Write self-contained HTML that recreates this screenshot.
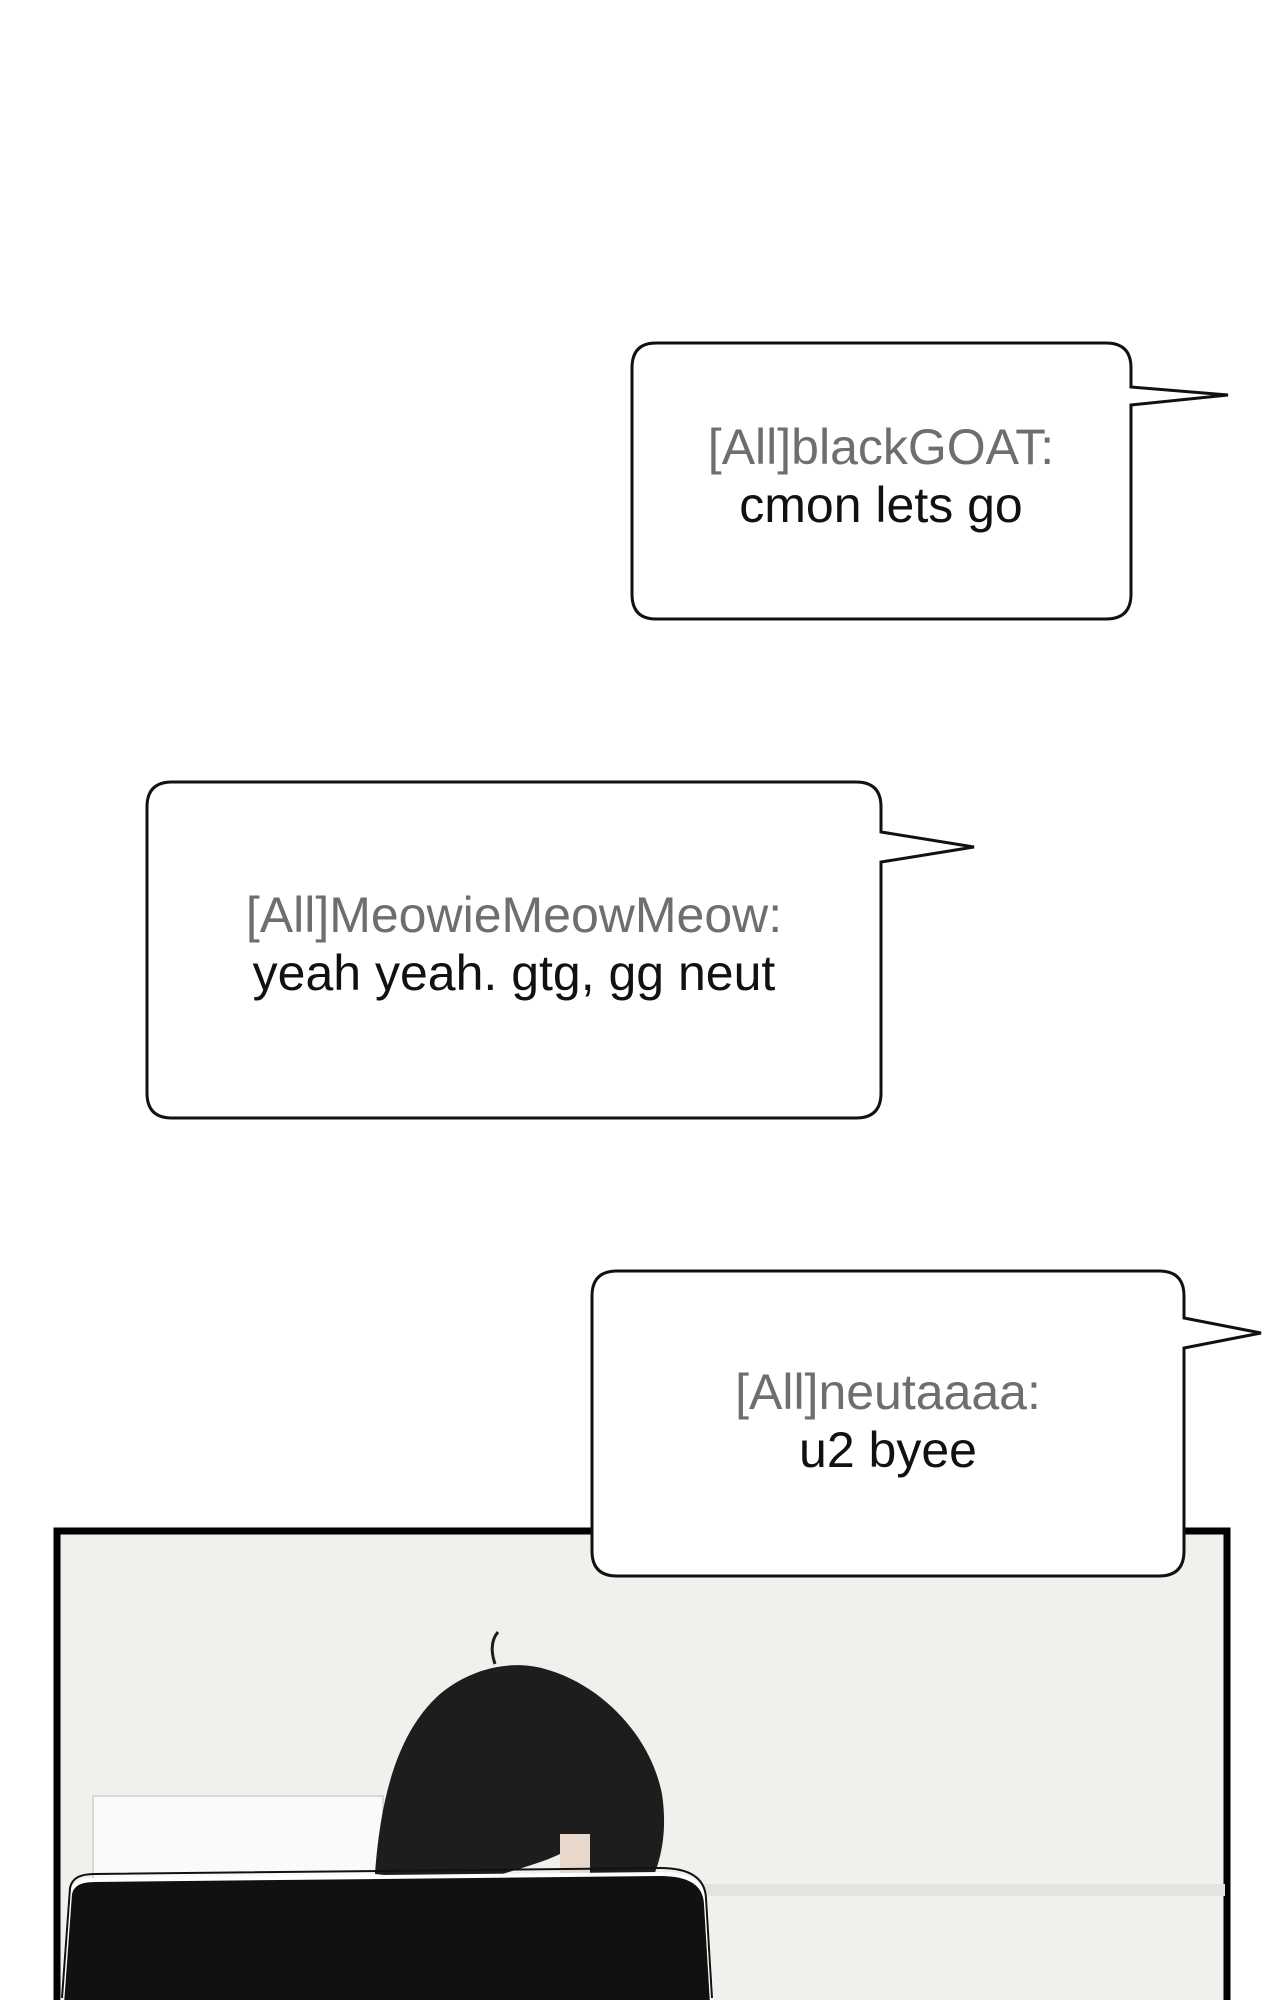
<!DOCTYPE html>
<html><head><meta charset="utf-8"><style>
html,body{margin:0;padding:0;background:#fff;width:1280px;height:2000px;overflow:hidden}
svg{display:block}
text{font-family:"Liberation Sans","DejaVu Sans",sans-serif;font-size:50px;text-anchor:middle}
.g{fill:#6e6e6e}.b{fill:#111}
</style></head><body>
<svg width="1280" height="2000" viewBox="0 0 1280 2000" xmlns="http://www.w3.org/2000/svg">
<rect width="1280" height="2000" fill="#fff"/>
<g transform="translate(0,4)">
<!-- panel -->
<rect x="57" y="1527" width="1170" height="480" fill="#f1f0ec" stroke="#000" stroke-width="7"/>
<rect x="93" y="1792" width="290" height="85" fill="#fafafa" stroke="#d8d8d8" stroke-width="2"/>
<rect x="560" y="1880" width="665" height="12" fill="#e4e3df"/>
<path d="M375,1870 C380,1800 395,1730 440,1690 C470,1665 510,1655 545,1665 C600,1680 650,1730 662,1790 C668,1830 660,1860 650,1880 L600,1885 L560,1850 C540,1860 500,1870 470,1880 Z" fill="#1d1d1d"/>
<path d="M495,1660 C490,1645 492,1635 498,1628" stroke="#1d1d1d" stroke-width="3" fill="none"/>
<rect x="560" y="1830" width="30" height="45" fill="#e8d8cc"/>
<path d="M62,2000 L70,1890 C72,1880 80,1876 95,1876 L660,1870 C690,1870 705,1880 706,1900 L712,2000 Z" fill="#111" stroke="#fff" stroke-width="4"/>
<path d="M62,2000 L70,1890 C72,1880 80,1876 95,1876 L660,1870 C690,1870 705,1880 706,1900 L712,2000" fill="none" stroke="#111" stroke-width="2" transform="translate(0,-6)"/>
<!-- bubble 1 -->
<path d="M656,339 L1106,339 Q1131,339 1131,364 L1131,383 L1228,391 L1131,401 L1131,590 Q1131,615 1106,615 L656,615 Q632,615 632,590 L632,364 Q632,339 656,339 Z" fill="#fff" stroke="#111" stroke-width="3"/>
<text x="881" y="460" class="g">[All]blackGOAT:</text>
<text x="881" y="518" class="b">cmon lets go</text>
<!-- bubble 2 -->
<path d="M172,778 L856,778 Q881,778 881,803 L881,828 L974,843 L881,858 L881,1089 Q881,1114 856,1114 L172,1114 Q147,1114 147,1089 L147,803 Q147,778 172,778 Z" fill="#fff" stroke="#111" stroke-width="3"/>
<text x="514" y="928" class="g">[All]MeowieMeowMeow:</text>
<text x="514" y="986" class="b">yeah yeah. gtg, gg neut</text>
<!-- bubble 3 -->
<path d="M617,1267 L1159,1267 Q1184,1267 1184,1292 L1184,1314 L1261,1329 L1184,1344 L1184,1547 Q1184,1572 1159,1572 L617,1572 Q592,1572 592,1547 L592,1292 Q592,1267 617,1267 Z" fill="#fff" stroke="#111" stroke-width="3"/>
<text x="888" y="1405" class="g">[All]neutaaaa:</text>
<text x="888" y="1463" class="b">u2 byee</text>
</g>
</svg>
</body></html>
